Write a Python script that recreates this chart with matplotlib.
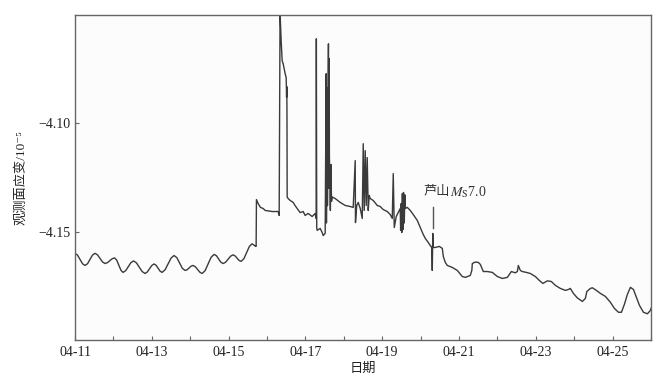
import matplotlib
matplotlib.use("Agg")
import matplotlib.pyplot as plt
import matplotlib.dates as mdates
import numpy as np
import pandas as pd

# ---- data (days since 2013-04-11 00:00, observed areal strain /1e-5) ----
t_days = [
    0.000, 0.065, 0.196, 0.261, 0.326, 0.456, 0.521, 0.586, 0.717, 0.782,
    0.844, 0.968, 1.030, 1.085, 1.196, 1.251, 1.320, 1.456, 1.525, 1.600,
    1.749, 1.824, 1.883, 2.000, 2.059, 2.111, 2.215, 2.267, 2.345, 2.502,
    2.580, 2.652, 2.795, 2.867, 2.919, 3.023, 3.075, 3.134, 3.251, 3.310,
    3.388, 3.545, 3.623, 3.682, 3.799, 3.857, 3.922, 4.053, 4.118, 4.170,
    4.274, 4.326, 4.398, 4.541, 4.613, 4.691, 4.717,
    4.725, 4.769, 4.830, 4.899, 4.952, 5.134, 5.290, 5.317, 5.340, 5.369,
    5.395, 5.421, 5.473, 5.499, 5.505, 5.510, 5.515, 5.520, 5.525, 5.550,
    5.603, 5.681, 5.733, 5.785, 5.863, 5.941, 5.993, 6.071, 6.176, 6.254,
    6.280, 6.285, 6.295, 6.307, 6.384, 6.437, 6.463, 6.515, 6.541, 6.548,
    6.567, 6.574, 6.600, 6.605, 6.610, 6.615, 6.620, 6.625, 6.650, 6.665,
    6.680, 6.698, 6.776, 6.906, 7.037, 7.167, 7.245, 7.297, 7.304, 7.336,
    7.375, 7.428, 7.480, 7.506, 7.532, 7.558, 7.584, 7.610, 7.636, 7.662,
    7.688, 7.766, 7.871, 7.949, 8.027, 8.131, 8.209, 8.262, 8.288, 8.314,
    8.366, 8.418, 8.470, 8.480, 8.495, 8.510, 8.525, 8.540, 8.555, 8.575,
    8.590, 8.600, 8.653, 8.731, 8.809, 8.913, 8.991, 9.069, 9.122, 9.200,
    9.252, 9.291, 9.304, 9.317, 9.330, 9.382, 9.486, 9.565, 9.591, 9.643,
    9.695, 9.825, 9.956, 10.086, 10.164, 10.294, 10.334, 10.347, 10.425, 10.503,
    10.555, 10.633, 10.737, 10.868, 10.998, 11.128, 11.259, 11.363, 11.467, 11.519,
    11.545, 11.597, 11.650, 11.754, 11.858, 11.988, 12.092, 12.184, 12.301, 12.405,
    12.510, 12.640, 12.770, 12.848, 12.900, 12.979, 13.083, 13.213, 13.291, 13.330,
    13.422, 13.474, 13.578, 13.683, 13.813, 13.943, 14.047, 14.152, 14.230, 14.308,
    14.386, 14.465, 14.543, 14.621, 14.699, 14.803, 14.907, 14.986, 15.000,
]
strain = [
    -4.1600, -4.1608, -4.1648, -4.1656, -4.1648, -4.1608, -4.1600, -4.1607, -4.1640, -4.1647,
    -4.1643, -4.1625, -4.1621, -4.1631, -4.1678, -4.1688, -4.1680, -4.1643, -4.1635, -4.1644,
    -4.1684, -4.1693, -4.1686, -4.1656, -4.1649, -4.1655, -4.1682, -4.1688, -4.1676, -4.1622,
    -4.1610, -4.1620, -4.1669, -4.1679, -4.1676, -4.1659, -4.1656, -4.1662, -4.1687, -4.1693,
    -4.1680, -4.1618, -4.1605, -4.1611, -4.1641, -4.1647, -4.1641, -4.1613, -4.1607, -4.1612,
    -4.1633, -4.1637, -4.1625, -4.1568, -4.1556, -4.1566, -4.1568,
    -4.1352, -4.1370, -4.1388, -4.1393, -4.1402, -4.1407, -4.1407, -4.1425, -4.0490, -4.0620,
    -4.0711, -4.0725, -4.0771, -4.0789, -4.0840, -4.0880, -4.0830, -4.0950, -4.1340, -4.1347,
    -4.1356, -4.1365, -4.1380, -4.1393, -4.1412, -4.1407, -4.1425, -4.1416, -4.1430, -4.1416,
    -4.1439, -4.0610, -4.1481, -4.1494, -4.1485, -4.1504, -4.1518, -4.1508, -4.0771, -4.1460,
    -4.0835, -4.1380, -4.0633, -4.1172, -4.0700, -4.1300, -4.0750, -4.1150, -4.1402, -4.1190,
    -4.1360, -4.1340, -4.1347, -4.1365, -4.1379, -4.1384, -4.1388, -4.1172, -4.1458, -4.1379,
    -4.1365, -4.1393, -4.1439, -4.1094, -4.1402, -4.1126, -4.1379, -4.1158, -4.1402, -4.1333,
    -4.1347, -4.1356, -4.1379, -4.1384, -4.1398, -4.1407, -4.1421, -4.1439, -4.1232, -4.1481,
    -4.1430, -4.1412, -4.1393, -4.1494, -4.1370, -4.1504, -4.1324, -4.1490, -4.1319, -4.1460,
    -4.1330, -4.1393, -4.1388, -4.1402, -4.1421, -4.1448, -4.1481, -4.1513, -4.1531, -4.1550,
    -4.1564, -4.1573, -4.1679, -4.1508, -4.1573, -4.1573, -4.1568, -4.1577, -4.1614, -4.1642,
    -4.1656, -4.1665, -4.1679, -4.1707, -4.1711, -4.1702, -4.1679, -4.1647, -4.1640, -4.1642,
    -4.1651, -4.1684, -4.1684, -4.1688, -4.1707, -4.1716, -4.1711, -4.1684, -4.1690, -4.1684,
    -4.1656, -4.1679, -4.1684, -4.1688, -4.1693, -4.1707, -4.1725, -4.1739, -4.1727, -4.1730,
    -4.1748, -4.1762, -4.1771, -4.1767, -4.1762, -4.1785, -4.1806, -4.1822, -4.1808, -4.1776,
    -4.1762, -4.1759, -4.1771, -4.1785, -4.1799, -4.1826, -4.1854, -4.1872, -4.1872, -4.1835,
    -4.1789, -4.1757, -4.1767, -4.1803, -4.1840, -4.1872, -4.1879, -4.1863, -4.1854,
]

start_date = "2013-04-11"
event_day = 9.335            # Lushan Ms7.0, 2013-04-20 08:02
event_marker = [-4.1388, -4.1481]
event_name = "芦山"
event_mag = "$M_{\\mathrm{S}}$7.0"
event_label_pos = (9.07, -4.1316)

label_days = list(range(11, 26, 2))   # labelled ticks 04-11 ... 04-25
y_ticks = [-4.15, -4.10]
y_ticklabels = ["−4.15", "−4.10"]
y_limits = (-4.20, -4.05)
x_limits_days = (0, 15)

xlabel = "日期"
ylabel = "观测面应变/10⁻⁵"

# ---- figure ----
plt.rcParams['font.family'] = ['Liberation Serif', 'Noto Sans CJK SC', 'DejaVu Sans']
plt.rcParams['mathtext.fontset'] = 'stix'

fig = plt.figure(figsize=(6.55, 3.76), dpi=100)
ax = fig.add_axes([75/655, 1 - 340/376, (651 - 75)/655, (340 - 15)/376])
ax.set_facecolor('#fcfcfc')

t0 = pd.Timestamp(start_date)
dates = t0 + pd.to_timedelta(np.asarray(t_days), unit='D')
ax.plot(dates, strain, color='#3a3a3a', lw=1.0, solid_joinstyle='round')

ev = t0 + pd.to_timedelta(event_day, unit='D')
ax.plot([ev, ev], event_marker, color='#555555', lw=1.0)
t1 = ax.text(t0 + pd.to_timedelta(event_label_pos[0], unit='D'), event_label_pos[1],
             event_name, fontsize=9.5, color='#333333', va='center', ha='left',
             family=['Noto Sans CJK SC'])
ax.annotate(event_mag, xy=(1.0, 0.5), xycoords=t1, va='center', ha='left',
            fontsize=10, color='#333333')

ax.set_xlim(t0 + pd.to_timedelta(x_limits_days[0], unit='D'),
            t0 + pd.to_timedelta(x_limits_days[1], unit='D'))
ax.set_ylim(*y_limits)

ax.xaxis.set_major_locator(mdates.DayLocator(bymonthday=label_days))
ax.xaxis.set_minor_locator(mdates.DayLocator())
ax.xaxis.set_major_formatter(mdates.DateFormatter('%m-%d'))
ax.set_yticks(y_ticks)
ax.set_yticklabels(y_ticklabels)

for s in ax.spines.values():
    s.set_color('#666666')
    s.set_linewidth(1.0)
ax.tick_params(axis='both', which='both', direction='in', length=3, width=0.8,
               color='#666666', labelsize=10, labelcolor='#222222')
ax.tick_params(axis='x', pad=4)
ax.tick_params(axis='y', pad=3)

ax.set_xlabel(xlabel, fontsize=9.5, color='#222222', labelpad=3)
ax.set_ylabel(ylabel, fontsize=9.5, color='#222222', labelpad=8)

fig.savefig("out.png", dpi=100, facecolor='white')
